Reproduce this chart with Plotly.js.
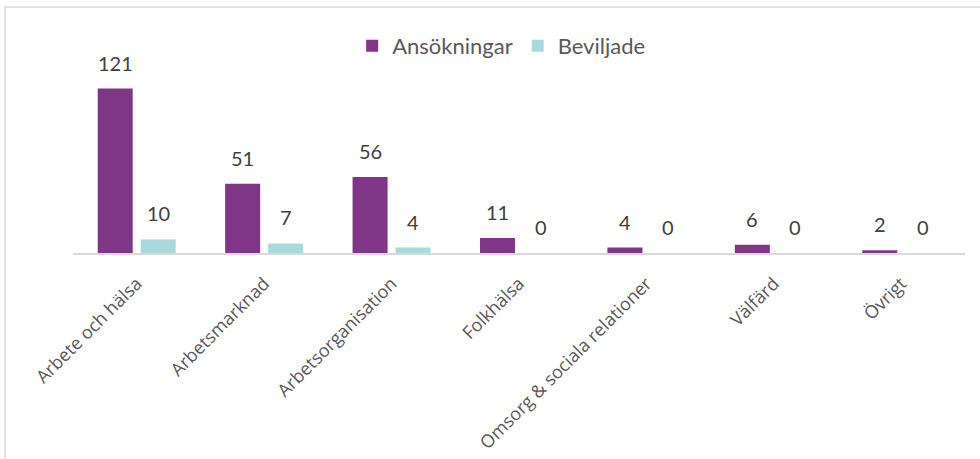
<!DOCTYPE html>
<html>
<head>
<meta charset="utf-8">
<script src="https://cdn.plot.ly/plotly-3.0.1.min.js"></script>
<style>
  html, body { margin: 0; padding: 0; background: #ffffff; }
  #chart { width: 980px; height: 459px; }
</style>
</head>
<body>
<div id="chart"></div>
<script>
const categories = ["Arbete och hälsa", "Arbetsmarknad", "Arbetsorganisation", "Folkhälsa", "Omsorg & sociala relationer", "Välfärd", "Övrigt"];
const seriesNames = ["Ansökningar", "Beviljade"];
const ansokningar = [121, 51, 56, 11, 4, 6, 2];
const beviljade = [10, 7, 4, 0, 0, 0, 0];

const purple = "#7F3686";
const teal = "#A9DADB";
const labelFont = { family: "Lato, 'Open Sans', sans-serif", size: 20, color: "#404040" };

const traces = [
  { type: "bar", name: seriesNames[0], x: categories, y: ansokningar, marker: { color: purple }, hoverinfo: "x+y" },
  { type: "bar", name: seriesNames[1], x: categories, y: beviljade, marker: { color: teal }, hoverinfo: "x+y" }
];

const annotations = [];
[ansokningar, beviljade].forEach((vals, si) => {
  vals.forEach((v, i) => {
    annotations.push({
      x: categories[i], y: v, xref: "x", yref: "y",
      text: String(v), showarrow: false,
      xshift: si === 0 ? -21.5 : 21.5, yshift: 12,
      yanchor: "bottom", xanchor: "center",
      font: labelFont
    });
  });
});

const L = 73, R = 15, T = 60, B = 206;
const pw = 980 - L - R, ph = 459 - T - B;

const layout = {
  width: 980, height: 459,
  margin: { l: L, r: R, t: T, b: B, pad: 0 },
  paper_bgcolor: "#ffffff", plot_bgcolor: "#ffffff",
  barmode: "group", bargap: 0.325, bargroupgap: 0.186,
  showlegend: true,
  legend: {
    orientation: "h", x: 0.48, xanchor: "center", y: 1 + (60 - 46) / ph, yanchor: "middle",
    font: { family: "Lato, 'Open Sans', sans-serif", size: 22, color: "#595959" },
    itemwidth: 30, traceorder: "normal"
  },
  xaxis: {
    type: "category", tickangle: -45,
    tickfont: { family: "Open Sans", size: 18, color: "#595959" },
    ticklabelstandoff: 11,
    showline: true, linecolor: "#D9D9D9", linewidth: 2,
    ticks: "", showgrid: false, zeroline: false, fixedrange: true
  },
  yaxis: {
    range: [0, 142], visible: false, showgrid: false, zeroline: false, fixedrange: true
  },
  annotations: annotations,
  shapes: [{
    type: "rect", xref: "paper", yref: "paper",
    x0: (5 - L) / pw, x1: 1 + (R + 20) / pw,
    y0: -(B + 20) / ph, y1: 1 + (T - 7) / ph,
    line: { color: "#D9D9D9", width: 1.5 }, fillcolor: "rgba(0,0,0,0)", layer: "below"
  }]
};

Plotly.newPlot("chart", traces, layout, { displayModeBar: false, staticPlot: true });
</script>
</body>
</html>
